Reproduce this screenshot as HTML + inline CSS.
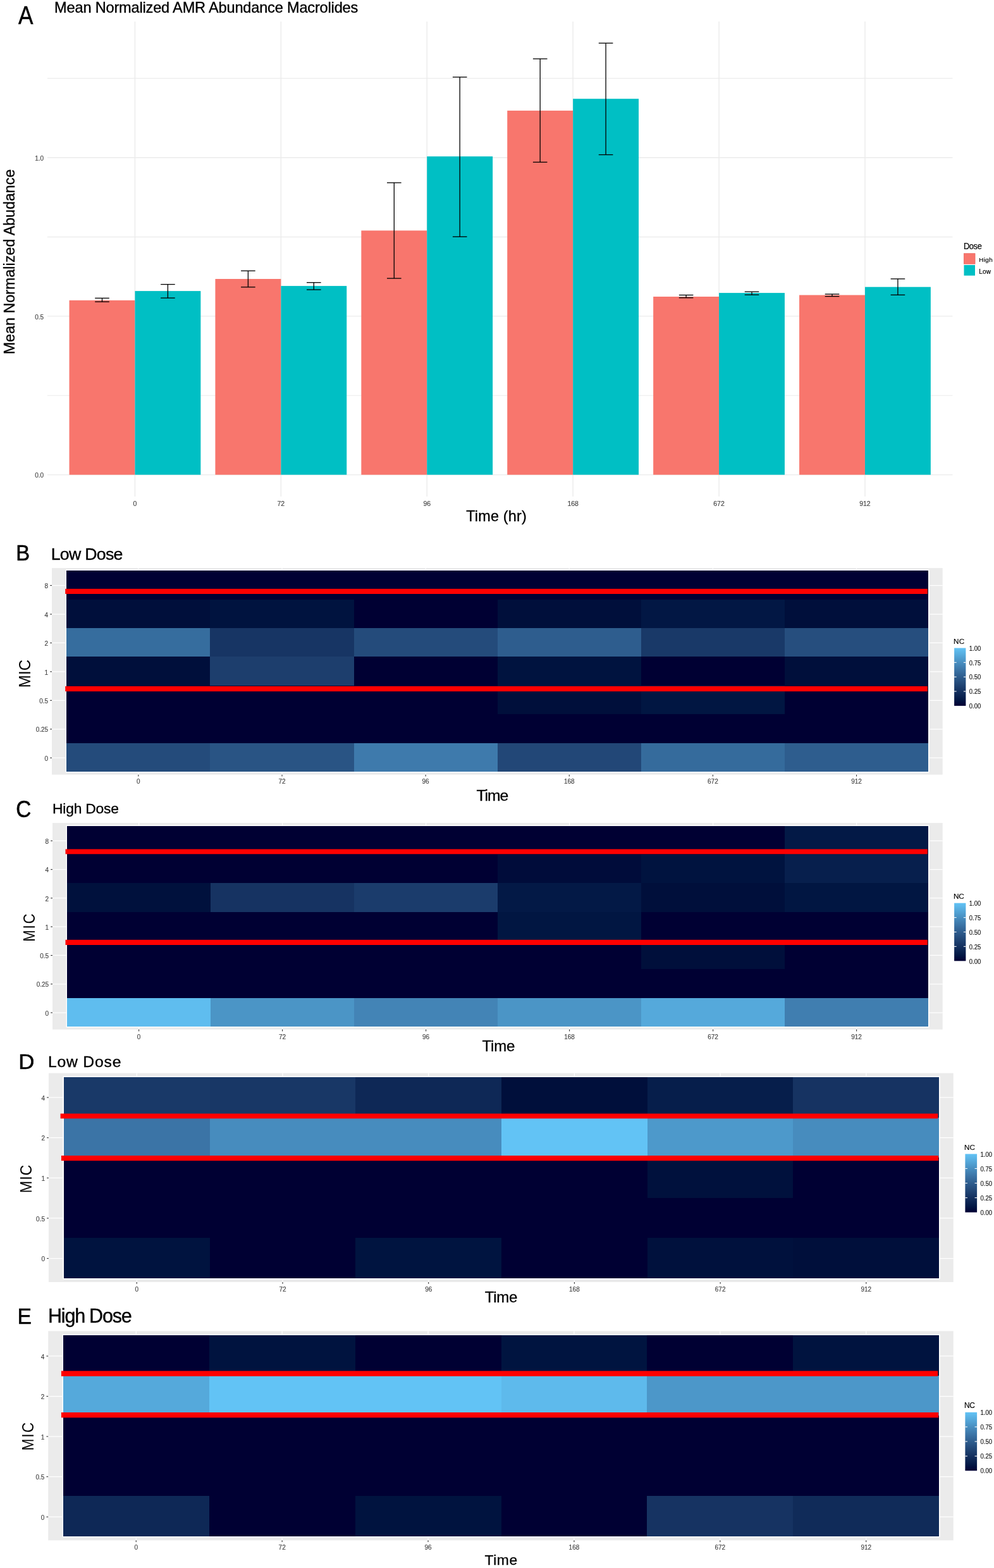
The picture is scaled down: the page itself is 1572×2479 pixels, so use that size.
<!DOCTYPE html>
<html><head><meta charset="utf-8"><title>Mean Normalized AMR Abundance Macrolides</title>
<style>html,body{margin:0;padding:0;background:#fff;overflow:hidden;}svg{display:block;}text{font-family:'Liberation Sans', Arial, Helvetica, sans-serif;}</style></head>
<body><svg width="1572" height="2479" viewBox="0 0 1572 2479">
<rect x="0" y="0" width="1572" height="2479" fill="#FFFFFF"/>
<line x1="74.90" y1="750.60" x2="1506.50" y2="750.60" stroke="#EBEBEB" stroke-width="1.4" />
<line x1="74.90" y1="625.25" x2="1506.50" y2="625.25" stroke="#EBEBEB" stroke-width="1.2" />
<line x1="74.90" y1="499.90" x2="1506.50" y2="499.90" stroke="#EBEBEB" stroke-width="1.4" />
<line x1="74.90" y1="374.55" x2="1506.50" y2="374.55" stroke="#EBEBEB" stroke-width="1.2" />
<line x1="74.90" y1="249.20" x2="1506.50" y2="249.20" stroke="#EBEBEB" stroke-width="1.4" />
<line x1="74.90" y1="123.85" x2="1506.50" y2="123.85" stroke="#EBEBEB" stroke-width="1.2" />
<line x1="213.44" y1="34.00" x2="213.44" y2="785.00" stroke="#EBEBEB" stroke-width="1.4" />
<line x1="444.35" y1="34.00" x2="444.35" y2="785.00" stroke="#EBEBEB" stroke-width="1.4" />
<line x1="675.25" y1="34.00" x2="675.25" y2="785.00" stroke="#EBEBEB" stroke-width="1.4" />
<line x1="906.15" y1="34.00" x2="906.15" y2="785.00" stroke="#EBEBEB" stroke-width="1.4" />
<line x1="1137.05" y1="34.00" x2="1137.05" y2="785.00" stroke="#EBEBEB" stroke-width="1.4" />
<line x1="1367.96" y1="34.00" x2="1367.96" y2="785.00" stroke="#EBEBEB" stroke-width="1.4" />
<rect x="109.54" y="474.80" width="103.91" height="275.80" fill="#F8766D" />
<rect x="213.44" y="460.10" width="103.91" height="290.50" fill="#00BFC4" />
<rect x="340.44" y="441.00" width="103.91" height="309.60" fill="#F8766D" />
<rect x="444.35" y="452.10" width="103.91" height="298.50" fill="#00BFC4" />
<rect x="571.34" y="364.50" width="103.91" height="386.10" fill="#F8766D" />
<rect x="675.25" y="247.30" width="103.91" height="503.30" fill="#00BFC4" />
<rect x="802.25" y="174.90" width="103.91" height="575.70" fill="#F8766D" />
<rect x="906.15" y="156.20" width="103.91" height="594.40" fill="#00BFC4" />
<rect x="1033.15" y="469.00" width="103.91" height="281.60" fill="#F8766D" />
<rect x="1137.05" y="463.10" width="103.91" height="287.50" fill="#00BFC4" />
<rect x="1264.05" y="466.50" width="103.91" height="284.10" fill="#F8766D" />
<rect x="1367.96" y="453.70" width="103.91" height="296.90" fill="#00BFC4" />
<line x1="161.49" y1="471.40" x2="161.49" y2="477.10" stroke="#000" stroke-width="1.3" />
<line x1="150.19" y1="471.40" x2="172.79" y2="471.40" stroke="#000" stroke-width="1.3" />
<line x1="150.19" y1="477.10" x2="172.79" y2="477.10" stroke="#000" stroke-width="1.3" />
<line x1="265.40" y1="449.60" x2="265.40" y2="471.10" stroke="#000" stroke-width="1.3" />
<line x1="254.10" y1="449.60" x2="276.70" y2="449.60" stroke="#000" stroke-width="1.3" />
<line x1="254.10" y1="471.10" x2="276.70" y2="471.10" stroke="#000" stroke-width="1.3" />
<line x1="392.39" y1="428.20" x2="392.39" y2="453.90" stroke="#000" stroke-width="1.3" />
<line x1="381.09" y1="428.20" x2="403.69" y2="428.20" stroke="#000" stroke-width="1.3" />
<line x1="381.09" y1="453.90" x2="403.69" y2="453.90" stroke="#000" stroke-width="1.3" />
<line x1="496.30" y1="446.70" x2="496.30" y2="458.00" stroke="#000" stroke-width="1.3" />
<line x1="485.00" y1="446.70" x2="507.60" y2="446.70" stroke="#000" stroke-width="1.3" />
<line x1="485.00" y1="458.00" x2="507.60" y2="458.00" stroke="#000" stroke-width="1.3" />
<line x1="623.30" y1="288.90" x2="623.30" y2="440.10" stroke="#000" stroke-width="1.3" />
<line x1="612.00" y1="288.90" x2="634.60" y2="288.90" stroke="#000" stroke-width="1.3" />
<line x1="612.00" y1="440.10" x2="634.60" y2="440.10" stroke="#000" stroke-width="1.3" />
<line x1="727.20" y1="121.90" x2="727.20" y2="374.30" stroke="#000" stroke-width="1.3" />
<line x1="715.90" y1="121.90" x2="738.50" y2="121.90" stroke="#000" stroke-width="1.3" />
<line x1="715.90" y1="374.30" x2="738.50" y2="374.30" stroke="#000" stroke-width="1.3" />
<line x1="854.20" y1="93.00" x2="854.20" y2="256.40" stroke="#000" stroke-width="1.3" />
<line x1="842.90" y1="93.00" x2="865.50" y2="93.00" stroke="#000" stroke-width="1.3" />
<line x1="842.90" y1="256.40" x2="865.50" y2="256.40" stroke="#000" stroke-width="1.3" />
<line x1="958.10" y1="68.20" x2="958.10" y2="244.60" stroke="#000" stroke-width="1.3" />
<line x1="946.80" y1="68.20" x2="969.40" y2="68.20" stroke="#000" stroke-width="1.3" />
<line x1="946.80" y1="244.60" x2="969.40" y2="244.60" stroke="#000" stroke-width="1.3" />
<line x1="1085.10" y1="466.50" x2="1085.10" y2="470.80" stroke="#000" stroke-width="1.3" />
<line x1="1073.80" y1="466.50" x2="1096.40" y2="466.50" stroke="#000" stroke-width="1.3" />
<line x1="1073.80" y1="470.80" x2="1096.40" y2="470.80" stroke="#000" stroke-width="1.3" />
<line x1="1189.01" y1="461.20" x2="1189.01" y2="466.10" stroke="#000" stroke-width="1.3" />
<line x1="1177.71" y1="461.20" x2="1200.31" y2="461.20" stroke="#000" stroke-width="1.3" />
<line x1="1177.71" y1="466.10" x2="1200.31" y2="466.10" stroke="#000" stroke-width="1.3" />
<line x1="1316.00" y1="465.00" x2="1316.00" y2="468.60" stroke="#000" stroke-width="1.3" />
<line x1="1304.70" y1="465.00" x2="1327.30" y2="465.00" stroke="#000" stroke-width="1.3" />
<line x1="1304.70" y1="468.60" x2="1327.30" y2="468.60" stroke="#000" stroke-width="1.3" />
<line x1="1419.91" y1="440.90" x2="1419.91" y2="466.30" stroke="#000" stroke-width="1.3" />
<line x1="1408.61" y1="440.90" x2="1431.21" y2="440.90" stroke="#000" stroke-width="1.3" />
<line x1="1408.61" y1="466.30" x2="1431.21" y2="466.30" stroke="#000" stroke-width="1.3" />
<rect x="1524.50" y="400.80" width="17.50" height="16.40" fill="#F8766D" stroke="#E8605A" stroke-width="0.8"/>
<rect x="1524.50" y="419.00" width="17.50" height="16.70" fill="#00BFC4" />
<rect x="82.00" y="898.10" width="1408.70" height="326.60" fill="#EBEBEB" />
<line x1="218.87" y1="898.10" x2="218.87" y2="1224.70" stroke="#FFFFFF" stroke-width="1.25" />
<line x1="446.00" y1="898.10" x2="446.00" y2="1224.70" stroke="#FFFFFF" stroke-width="1.25" />
<line x1="673.13" y1="898.10" x2="673.13" y2="1224.70" stroke="#FFFFFF" stroke-width="1.25" />
<line x1="900.27" y1="898.10" x2="900.27" y2="1224.70" stroke="#FFFFFF" stroke-width="1.25" />
<line x1="1127.40" y1="898.10" x2="1127.40" y2="1224.70" stroke="#FFFFFF" stroke-width="1.25" />
<line x1="1354.53" y1="898.10" x2="1354.53" y2="1224.70" stroke="#FFFFFF" stroke-width="1.25" />
<line x1="82.00" y1="925.61" x2="1490.70" y2="925.61" stroke="#FFFFFF" stroke-width="1.25" />
<line x1="82.00" y1="971.04" x2="1490.70" y2="971.04" stroke="#FFFFFF" stroke-width="1.25" />
<line x1="82.00" y1="1016.47" x2="1490.70" y2="1016.47" stroke="#FFFFFF" stroke-width="1.25" />
<line x1="82.00" y1="1061.90" x2="1490.70" y2="1061.90" stroke="#FFFFFF" stroke-width="1.25" />
<line x1="82.00" y1="1107.33" x2="1490.70" y2="1107.33" stroke="#FFFFFF" stroke-width="1.25" />
<line x1="82.00" y1="1152.76" x2="1490.70" y2="1152.76" stroke="#FFFFFF" stroke-width="1.25" />
<line x1="82.00" y1="1198.19" x2="1490.70" y2="1198.19" stroke="#FFFFFF" stroke-width="1.25" />
<rect x="103.80" y="900.60" width="1365.80" height="321.00" fill="#FFFFFF" />
<rect x="105.30" y="902.10" width="227.13" height="45.43" fill="#000033" shape-rendering="crispEdges"/>
<rect x="332.43" y="902.10" width="227.13" height="45.43" fill="#000033" shape-rendering="crispEdges"/>
<rect x="559.57" y="902.10" width="227.13" height="45.43" fill="#000033" shape-rendering="crispEdges"/>
<rect x="786.70" y="902.10" width="227.13" height="45.43" fill="#000033" shape-rendering="crispEdges"/>
<rect x="1013.83" y="902.10" width="227.13" height="45.43" fill="#000033" shape-rendering="crispEdges"/>
<rect x="1240.97" y="902.10" width="227.13" height="45.43" fill="#000033" shape-rendering="crispEdges"/>
<rect x="105.30" y="947.53" width="227.13" height="45.43" fill="#000F3B" shape-rendering="crispEdges"/>
<rect x="332.43" y="947.53" width="227.13" height="45.43" fill="#00133F" shape-rendering="crispEdges"/>
<rect x="559.57" y="947.53" width="227.13" height="45.43" fill="#000033" shape-rendering="crispEdges"/>
<rect x="786.70" y="947.53" width="227.13" height="45.43" fill="#000F3B" shape-rendering="crispEdges"/>
<rect x="1013.83" y="947.53" width="227.13" height="45.43" fill="#021744" shape-rendering="crispEdges"/>
<rect x="1240.97" y="947.53" width="227.13" height="45.43" fill="#000F3B" shape-rendering="crispEdges"/>
<rect x="105.30" y="992.96" width="227.13" height="45.43" fill="#366D9E" shape-rendering="crispEdges"/>
<rect x="332.43" y="992.96" width="227.13" height="45.43" fill="#173564" shape-rendering="crispEdges"/>
<rect x="559.57" y="992.96" width="227.13" height="45.43" fill="#244B7B" shape-rendering="crispEdges"/>
<rect x="786.70" y="992.96" width="227.13" height="45.43" fill="#2E5D8E" shape-rendering="crispEdges"/>
<rect x="1013.83" y="992.96" width="227.13" height="45.43" fill="#193968" shape-rendering="crispEdges"/>
<rect x="1240.97" y="992.96" width="227.13" height="45.43" fill="#264E7E" shape-rendering="crispEdges"/>
<rect x="105.30" y="1038.39" width="227.13" height="45.43" fill="#000F3B" shape-rendering="crispEdges"/>
<rect x="332.43" y="1038.39" width="227.13" height="45.43" fill="#1D3E6D" shape-rendering="crispEdges"/>
<rect x="559.57" y="1038.39" width="227.13" height="45.43" fill="#000033" shape-rendering="crispEdges"/>
<rect x="786.70" y="1038.39" width="227.13" height="45.43" fill="#00133F" shape-rendering="crispEdges"/>
<rect x="1013.83" y="1038.39" width="227.13" height="45.43" fill="#000033" shape-rendering="crispEdges"/>
<rect x="1240.97" y="1038.39" width="227.13" height="45.43" fill="#000F3B" shape-rendering="crispEdges"/>
<rect x="105.30" y="1083.81" width="227.13" height="45.43" fill="#000033" shape-rendering="crispEdges"/>
<rect x="332.43" y="1083.81" width="227.13" height="45.43" fill="#000033" shape-rendering="crispEdges"/>
<rect x="559.57" y="1083.81" width="227.13" height="45.43" fill="#000033" shape-rendering="crispEdges"/>
<rect x="786.70" y="1083.81" width="227.13" height="45.43" fill="#000F3B" shape-rendering="crispEdges"/>
<rect x="1013.83" y="1083.81" width="227.13" height="45.43" fill="#011642" shape-rendering="crispEdges"/>
<rect x="1240.97" y="1083.81" width="227.13" height="45.43" fill="#000033" shape-rendering="crispEdges"/>
<rect x="105.30" y="1129.24" width="227.13" height="45.43" fill="#000033" shape-rendering="crispEdges"/>
<rect x="332.43" y="1129.24" width="227.13" height="45.43" fill="#000033" shape-rendering="crispEdges"/>
<rect x="559.57" y="1129.24" width="227.13" height="45.43" fill="#000033" shape-rendering="crispEdges"/>
<rect x="786.70" y="1129.24" width="227.13" height="45.43" fill="#000033" shape-rendering="crispEdges"/>
<rect x="1013.83" y="1129.24" width="227.13" height="45.43" fill="#000033" shape-rendering="crispEdges"/>
<rect x="1240.97" y="1129.24" width="227.13" height="45.43" fill="#000033" shape-rendering="crispEdges"/>
<rect x="105.30" y="1174.67" width="227.13" height="45.43" fill="#244B7B" shape-rendering="crispEdges"/>
<rect x="332.43" y="1174.67" width="227.13" height="45.43" fill="#295484" shape-rendering="crispEdges"/>
<rect x="559.57" y="1174.67" width="227.13" height="45.43" fill="#3E7AAC" shape-rendering="crispEdges"/>
<rect x="786.70" y="1174.67" width="227.13" height="45.43" fill="#224777" shape-rendering="crispEdges"/>
<rect x="1013.83" y="1174.67" width="227.13" height="45.43" fill="#356B9C" shape-rendering="crispEdges"/>
<rect x="1240.97" y="1174.67" width="227.13" height="45.43" fill="#2E5D8E" shape-rendering="crispEdges"/>
<rect x="103.20" y="930.90" width="1363.70" height="8.10" fill="#FF0000" />
<rect x="103.20" y="1084.90" width="1363.70" height="8.20" fill="#FF0000" />
<line x1="79.20" y1="925.61" x2="82.00" y2="925.61" stroke="#333333" stroke-width="1.1" />
<line x1="79.20" y1="971.04" x2="82.00" y2="971.04" stroke="#333333" stroke-width="1.1" />
<line x1="79.20" y1="1016.47" x2="82.00" y2="1016.47" stroke="#333333" stroke-width="1.1" />
<line x1="79.20" y1="1061.90" x2="82.00" y2="1061.90" stroke="#333333" stroke-width="1.1" />
<line x1="79.20" y1="1107.33" x2="82.00" y2="1107.33" stroke="#333333" stroke-width="1.1" />
<line x1="79.20" y1="1152.76" x2="82.00" y2="1152.76" stroke="#333333" stroke-width="1.1" />
<line x1="79.20" y1="1198.19" x2="82.00" y2="1198.19" stroke="#333333" stroke-width="1.1" />
<line x1="218.87" y1="1224.70" x2="218.87" y2="1227.50" stroke="#333333" stroke-width="1.1" />
<line x1="446.00" y1="1224.70" x2="446.00" y2="1227.50" stroke="#333333" stroke-width="1.1" />
<line x1="673.13" y1="1224.70" x2="673.13" y2="1227.50" stroke="#333333" stroke-width="1.1" />
<line x1="900.27" y1="1224.70" x2="900.27" y2="1227.50" stroke="#333333" stroke-width="1.1" />
<line x1="1127.40" y1="1224.70" x2="1127.40" y2="1227.50" stroke="#333333" stroke-width="1.1" />
<line x1="1354.53" y1="1224.70" x2="1354.53" y2="1227.50" stroke="#333333" stroke-width="1.1" />
<defs><linearGradient id="gB" x1="0" y1="1" x2="0" y2="0"><stop offset="0.0" stop-color="#000033"/><stop offset="0.1" stop-color="#021744"/><stop offset="0.2" stop-color="#0E2856"/><stop offset="0.3" stop-color="#193968"/><stop offset="0.4" stop-color="#244B7B"/><stop offset="0.5" stop-color="#2E5D8E"/><stop offset="0.6" stop-color="#3970A2"/><stop offset="0.7" stop-color="#4384B6"/><stop offset="0.8" stop-color="#4D99CB"/><stop offset="0.9" stop-color="#58AEE0"/><stop offset="1.0" stop-color="#62C3F5"/></linearGradient></defs>
<rect x="1509.10" y="1024.50" width="18.30" height="91.40" fill="url(#gB)" />
<line x1="1509.10" y1="1047.35" x2="1512.60" y2="1047.35" stroke="#FFFFFF" stroke-width="1.1" />
<line x1="1523.90" y1="1047.35" x2="1527.40" y2="1047.35" stroke="#FFFFFF" stroke-width="1.1" />
<line x1="1509.10" y1="1070.20" x2="1512.60" y2="1070.20" stroke="#FFFFFF" stroke-width="1.1" />
<line x1="1523.90" y1="1070.20" x2="1527.40" y2="1070.20" stroke="#FFFFFF" stroke-width="1.1" />
<line x1="1509.10" y1="1093.05" x2="1512.60" y2="1093.05" stroke="#FFFFFF" stroke-width="1.1" />
<line x1="1523.90" y1="1093.05" x2="1527.40" y2="1093.05" stroke="#FFFFFF" stroke-width="1.1" />
<rect x="83.00" y="1301.10" width="1407.70" height="326.50" fill="#EBEBEB" />
<line x1="219.60" y1="1301.10" x2="219.60" y2="1627.60" stroke="#FFFFFF" stroke-width="1.25" />
<line x1="446.60" y1="1301.10" x2="446.60" y2="1627.60" stroke="#FFFFFF" stroke-width="1.25" />
<line x1="673.60" y1="1301.10" x2="673.60" y2="1627.60" stroke="#FFFFFF" stroke-width="1.25" />
<line x1="900.60" y1="1301.10" x2="900.60" y2="1627.60" stroke="#FFFFFF" stroke-width="1.25" />
<line x1="1127.60" y1="1301.10" x2="1127.60" y2="1627.60" stroke="#FFFFFF" stroke-width="1.25" />
<line x1="1354.60" y1="1301.10" x2="1354.60" y2="1627.60" stroke="#FFFFFF" stroke-width="1.25" />
<line x1="83.00" y1="1329.34" x2="1490.70" y2="1329.34" stroke="#FFFFFF" stroke-width="1.25" />
<line x1="83.00" y1="1374.63" x2="1490.70" y2="1374.63" stroke="#FFFFFF" stroke-width="1.25" />
<line x1="83.00" y1="1419.91" x2="1490.70" y2="1419.91" stroke="#FFFFFF" stroke-width="1.25" />
<line x1="83.00" y1="1465.20" x2="1490.70" y2="1465.20" stroke="#FFFFFF" stroke-width="1.25" />
<line x1="83.00" y1="1510.49" x2="1490.70" y2="1510.49" stroke="#FFFFFF" stroke-width="1.25" />
<line x1="83.00" y1="1555.77" x2="1490.70" y2="1555.77" stroke="#FFFFFF" stroke-width="1.25" />
<line x1="83.00" y1="1601.06" x2="1490.70" y2="1601.06" stroke="#FFFFFF" stroke-width="1.25" />
<rect x="104.60" y="1304.40" width="1365.00" height="320.00" fill="#FFFFFF" />
<rect x="106.10" y="1305.90" width="227.00" height="45.29" fill="#000033" shape-rendering="crispEdges"/>
<rect x="333.10" y="1305.90" width="227.00" height="45.29" fill="#000033" shape-rendering="crispEdges"/>
<rect x="560.10" y="1305.90" width="227.00" height="45.29" fill="#000033" shape-rendering="crispEdges"/>
<rect x="787.10" y="1305.90" width="227.00" height="45.29" fill="#000033" shape-rendering="crispEdges"/>
<rect x="1014.10" y="1305.90" width="227.00" height="45.29" fill="#000033" shape-rendering="crispEdges"/>
<rect x="1241.10" y="1305.90" width="227.00" height="45.29" fill="#031946" shape-rendering="crispEdges"/>
<rect x="106.10" y="1351.19" width="227.00" height="45.29" fill="#000033" shape-rendering="crispEdges"/>
<rect x="333.10" y="1351.19" width="227.00" height="45.29" fill="#000033" shape-rendering="crispEdges"/>
<rect x="560.10" y="1351.19" width="227.00" height="45.29" fill="#000033" shape-rendering="crispEdges"/>
<rect x="787.10" y="1351.19" width="227.00" height="45.29" fill="#000C3A" shape-rendering="crispEdges"/>
<rect x="1014.10" y="1351.19" width="227.00" height="45.29" fill="#00133F" shape-rendering="crispEdges"/>
<rect x="1241.10" y="1351.19" width="227.00" height="45.29" fill="#071F4D" shape-rendering="crispEdges"/>
<rect x="106.10" y="1396.47" width="227.00" height="45.29" fill="#00113D" shape-rendering="crispEdges"/>
<rect x="333.10" y="1396.47" width="227.00" height="45.29" fill="#163362" shape-rendering="crispEdges"/>
<rect x="560.10" y="1396.47" width="227.00" height="45.29" fill="#1B3C6C" shape-rendering="crispEdges"/>
<rect x="787.10" y="1396.47" width="227.00" height="45.29" fill="#031946" shape-rendering="crispEdges"/>
<rect x="1014.10" y="1396.47" width="227.00" height="45.29" fill="#000F3B" shape-rendering="crispEdges"/>
<rect x="1241.10" y="1396.47" width="227.00" height="45.29" fill="#011642" shape-rendering="crispEdges"/>
<rect x="106.10" y="1441.76" width="227.00" height="45.29" fill="#000033" shape-rendering="crispEdges"/>
<rect x="333.10" y="1441.76" width="227.00" height="45.29" fill="#000033" shape-rendering="crispEdges"/>
<rect x="560.10" y="1441.76" width="227.00" height="45.29" fill="#000033" shape-rendering="crispEdges"/>
<rect x="787.10" y="1441.76" width="227.00" height="45.29" fill="#011642" shape-rendering="crispEdges"/>
<rect x="1014.10" y="1441.76" width="227.00" height="45.29" fill="#000033" shape-rendering="crispEdges"/>
<rect x="1241.10" y="1441.76" width="227.00" height="45.29" fill="#000033" shape-rendering="crispEdges"/>
<rect x="106.10" y="1487.04" width="227.00" height="45.29" fill="#000033" shape-rendering="crispEdges"/>
<rect x="333.10" y="1487.04" width="227.00" height="45.29" fill="#000033" shape-rendering="crispEdges"/>
<rect x="560.10" y="1487.04" width="227.00" height="45.29" fill="#000033" shape-rendering="crispEdges"/>
<rect x="787.10" y="1487.04" width="227.00" height="45.29" fill="#000033" shape-rendering="crispEdges"/>
<rect x="1014.10" y="1487.04" width="227.00" height="45.29" fill="#000F3B" shape-rendering="crispEdges"/>
<rect x="1241.10" y="1487.04" width="227.00" height="45.29" fill="#000033" shape-rendering="crispEdges"/>
<rect x="106.10" y="1532.33" width="227.00" height="45.29" fill="#000033" shape-rendering="crispEdges"/>
<rect x="333.10" y="1532.33" width="227.00" height="45.29" fill="#000033" shape-rendering="crispEdges"/>
<rect x="560.10" y="1532.33" width="227.00" height="45.29" fill="#000033" shape-rendering="crispEdges"/>
<rect x="787.10" y="1532.33" width="227.00" height="45.29" fill="#000033" shape-rendering="crispEdges"/>
<rect x="1014.10" y="1532.33" width="227.00" height="45.29" fill="#000033" shape-rendering="crispEdges"/>
<rect x="1241.10" y="1532.33" width="227.00" height="45.29" fill="#000033" shape-rendering="crispEdges"/>
<rect x="106.10" y="1577.61" width="227.00" height="45.29" fill="#5FBDEF" shape-rendering="crispEdges"/>
<rect x="333.10" y="1577.61" width="227.00" height="45.29" fill="#4B95C6" shape-rendering="crispEdges"/>
<rect x="560.10" y="1577.61" width="227.00" height="45.29" fill="#4384B6" shape-rendering="crispEdges"/>
<rect x="787.10" y="1577.61" width="227.00" height="45.29" fill="#4B95C6" shape-rendering="crispEdges"/>
<rect x="1014.10" y="1577.61" width="227.00" height="45.29" fill="#55A9DB" shape-rendering="crispEdges"/>
<rect x="1241.10" y="1577.61" width="227.00" height="45.29" fill="#407EB0" shape-rendering="crispEdges"/>
<rect x="103.50" y="1342.50" width="1363.40" height="7.80" fill="#FF0000" />
<rect x="103.50" y="1485.80" width="1363.40" height="8.20" fill="#FF0000" />
<line x1="80.20" y1="1329.34" x2="83.00" y2="1329.34" stroke="#333333" stroke-width="1.1" />
<line x1="80.20" y1="1374.63" x2="83.00" y2="1374.63" stroke="#333333" stroke-width="1.1" />
<line x1="80.20" y1="1419.91" x2="83.00" y2="1419.91" stroke="#333333" stroke-width="1.1" />
<line x1="80.20" y1="1465.20" x2="83.00" y2="1465.20" stroke="#333333" stroke-width="1.1" />
<line x1="80.20" y1="1510.49" x2="83.00" y2="1510.49" stroke="#333333" stroke-width="1.1" />
<line x1="80.20" y1="1555.77" x2="83.00" y2="1555.77" stroke="#333333" stroke-width="1.1" />
<line x1="80.20" y1="1601.06" x2="83.00" y2="1601.06" stroke="#333333" stroke-width="1.1" />
<line x1="219.60" y1="1627.60" x2="219.60" y2="1630.40" stroke="#333333" stroke-width="1.1" />
<line x1="446.60" y1="1627.60" x2="446.60" y2="1630.40" stroke="#333333" stroke-width="1.1" />
<line x1="673.60" y1="1627.60" x2="673.60" y2="1630.40" stroke="#333333" stroke-width="1.1" />
<line x1="900.60" y1="1627.60" x2="900.60" y2="1630.40" stroke="#333333" stroke-width="1.1" />
<line x1="1127.60" y1="1627.60" x2="1127.60" y2="1630.40" stroke="#333333" stroke-width="1.1" />
<line x1="1354.60" y1="1627.60" x2="1354.60" y2="1630.40" stroke="#333333" stroke-width="1.1" />
<defs><linearGradient id="gC" x1="0" y1="1" x2="0" y2="0"><stop offset="0.0" stop-color="#000033"/><stop offset="0.1" stop-color="#021744"/><stop offset="0.2" stop-color="#0E2856"/><stop offset="0.3" stop-color="#193968"/><stop offset="0.4" stop-color="#244B7B"/><stop offset="0.5" stop-color="#2E5D8E"/><stop offset="0.6" stop-color="#3970A2"/><stop offset="0.7" stop-color="#4384B6"/><stop offset="0.8" stop-color="#4D99CB"/><stop offset="0.9" stop-color="#58AEE0"/><stop offset="1.0" stop-color="#62C3F5"/></linearGradient></defs>
<rect x="1509.10" y="1427.70" width="18.30" height="91.60" fill="url(#gC)" />
<line x1="1509.10" y1="1450.60" x2="1512.60" y2="1450.60" stroke="#FFFFFF" stroke-width="1.1" />
<line x1="1523.90" y1="1450.60" x2="1527.40" y2="1450.60" stroke="#FFFFFF" stroke-width="1.1" />
<line x1="1509.10" y1="1473.50" x2="1512.60" y2="1473.50" stroke="#FFFFFF" stroke-width="1.1" />
<line x1="1523.90" y1="1473.50" x2="1527.40" y2="1473.50" stroke="#FFFFFF" stroke-width="1.1" />
<line x1="1509.10" y1="1496.40" x2="1512.60" y2="1496.40" stroke="#FFFFFF" stroke-width="1.1" />
<line x1="1523.90" y1="1496.40" x2="1527.40" y2="1496.40" stroke="#FFFFFF" stroke-width="1.1" />
<rect x="76.90" y="1696.60" width="1430.90" height="330.40" fill="#EBEBEB" />
<line x1="216.26" y1="1696.60" x2="216.26" y2="2027.00" stroke="#FFFFFF" stroke-width="1.25" />
<line x1="446.98" y1="1696.60" x2="446.98" y2="2027.00" stroke="#FFFFFF" stroke-width="1.25" />
<line x1="677.69" y1="1696.60" x2="677.69" y2="2027.00" stroke="#FFFFFF" stroke-width="1.25" />
<line x1="908.41" y1="1696.60" x2="908.41" y2="2027.00" stroke="#FFFFFF" stroke-width="1.25" />
<line x1="1139.12" y1="1696.60" x2="1139.12" y2="2027.00" stroke="#FFFFFF" stroke-width="1.25" />
<line x1="1369.84" y1="1696.60" x2="1369.84" y2="2027.00" stroke="#FFFFFF" stroke-width="1.25" />
<line x1="76.90" y1="1735.11" x2="1507.80" y2="1735.11" stroke="#FFFFFF" stroke-width="1.25" />
<line x1="76.90" y1="1798.73" x2="1507.80" y2="1798.73" stroke="#FFFFFF" stroke-width="1.25" />
<line x1="76.90" y1="1862.35" x2="1507.80" y2="1862.35" stroke="#FFFFFF" stroke-width="1.25" />
<line x1="76.90" y1="1925.97" x2="1507.80" y2="1925.97" stroke="#FFFFFF" stroke-width="1.25" />
<line x1="76.90" y1="1989.59" x2="1507.80" y2="1989.59" stroke="#FFFFFF" stroke-width="1.25" />
<rect x="99.40" y="1701.40" width="1387.30" height="321.10" fill="#FFFFFF" />
<rect x="100.90" y="1702.90" width="230.72" height="63.62" fill="#193968" shape-rendering="crispEdges"/>
<rect x="331.62" y="1702.90" width="230.72" height="63.62" fill="#183766" shape-rendering="crispEdges"/>
<rect x="562.33" y="1702.90" width="230.72" height="63.62" fill="#0E2856" shape-rendering="crispEdges"/>
<rect x="793.05" y="1702.90" width="230.72" height="63.62" fill="#000F3B" shape-rendering="crispEdges"/>
<rect x="1023.77" y="1702.90" width="230.72" height="63.62" fill="#061E4B" shape-rendering="crispEdges"/>
<rect x="1254.48" y="1702.90" width="230.72" height="63.62" fill="#163362" shape-rendering="crispEdges"/>
<rect x="100.90" y="1766.52" width="230.72" height="63.62" fill="#3B74A6" shape-rendering="crispEdges"/>
<rect x="331.62" y="1766.52" width="230.72" height="63.62" fill="#478CBE" shape-rendering="crispEdges"/>
<rect x="562.33" y="1766.52" width="230.72" height="63.62" fill="#478CBE" shape-rendering="crispEdges"/>
<rect x="793.05" y="1766.52" width="230.72" height="63.62" fill="#62C3F5" shape-rendering="crispEdges"/>
<rect x="1023.77" y="1766.52" width="230.72" height="63.62" fill="#4D99CB" shape-rendering="crispEdges"/>
<rect x="1254.48" y="1766.52" width="230.72" height="63.62" fill="#478CBE" shape-rendering="crispEdges"/>
<rect x="100.90" y="1830.14" width="230.72" height="63.62" fill="#000033" shape-rendering="crispEdges"/>
<rect x="331.62" y="1830.14" width="230.72" height="63.62" fill="#000033" shape-rendering="crispEdges"/>
<rect x="562.33" y="1830.14" width="230.72" height="63.62" fill="#000033" shape-rendering="crispEdges"/>
<rect x="793.05" y="1830.14" width="230.72" height="63.62" fill="#000033" shape-rendering="crispEdges"/>
<rect x="1023.77" y="1830.14" width="230.72" height="63.62" fill="#00113D" shape-rendering="crispEdges"/>
<rect x="1254.48" y="1830.14" width="230.72" height="63.62" fill="#000033" shape-rendering="crispEdges"/>
<rect x="100.90" y="1893.76" width="230.72" height="63.62" fill="#000033" shape-rendering="crispEdges"/>
<rect x="331.62" y="1893.76" width="230.72" height="63.62" fill="#000033" shape-rendering="crispEdges"/>
<rect x="562.33" y="1893.76" width="230.72" height="63.62" fill="#000033" shape-rendering="crispEdges"/>
<rect x="793.05" y="1893.76" width="230.72" height="63.62" fill="#000033" shape-rendering="crispEdges"/>
<rect x="1023.77" y="1893.76" width="230.72" height="63.62" fill="#000033" shape-rendering="crispEdges"/>
<rect x="1254.48" y="1893.76" width="230.72" height="63.62" fill="#000033" shape-rendering="crispEdges"/>
<rect x="100.90" y="1957.38" width="230.72" height="63.62" fill="#00133F" shape-rendering="crispEdges"/>
<rect x="331.62" y="1957.38" width="230.72" height="63.62" fill="#000033" shape-rendering="crispEdges"/>
<rect x="562.33" y="1957.38" width="230.72" height="63.62" fill="#001440" shape-rendering="crispEdges"/>
<rect x="793.05" y="1957.38" width="230.72" height="63.62" fill="#000033" shape-rendering="crispEdges"/>
<rect x="1023.77" y="1957.38" width="230.72" height="63.62" fill="#00113D" shape-rendering="crispEdges"/>
<rect x="1254.48" y="1957.38" width="230.72" height="63.62" fill="#000F3B" shape-rendering="crispEdges"/>
<rect x="95.60" y="1760.60" width="1387.60" height="7.80" fill="#FF0000" />
<rect x="96.90" y="1827.00" width="1387.30" height="8.10" fill="#FF0000" />
<line x1="74.10" y1="1735.11" x2="76.90" y2="1735.11" stroke="#333333" stroke-width="1.1" />
<line x1="74.10" y1="1798.73" x2="76.90" y2="1798.73" stroke="#333333" stroke-width="1.1" />
<line x1="74.10" y1="1862.35" x2="76.90" y2="1862.35" stroke="#333333" stroke-width="1.1" />
<line x1="74.10" y1="1925.97" x2="76.90" y2="1925.97" stroke="#333333" stroke-width="1.1" />
<line x1="74.10" y1="1989.59" x2="76.90" y2="1989.59" stroke="#333333" stroke-width="1.1" />
<line x1="216.26" y1="2027.00" x2="216.26" y2="2029.80" stroke="#333333" stroke-width="1.1" />
<line x1="446.98" y1="2027.00" x2="446.98" y2="2029.80" stroke="#333333" stroke-width="1.1" />
<line x1="677.69" y1="2027.00" x2="677.69" y2="2029.80" stroke="#333333" stroke-width="1.1" />
<line x1="908.41" y1="2027.00" x2="908.41" y2="2029.80" stroke="#333333" stroke-width="1.1" />
<line x1="1139.12" y1="2027.00" x2="1139.12" y2="2029.80" stroke="#333333" stroke-width="1.1" />
<line x1="1369.84" y1="2027.00" x2="1369.84" y2="2029.80" stroke="#333333" stroke-width="1.1" />
<defs><linearGradient id="gD" x1="0" y1="1" x2="0" y2="0"><stop offset="0.0" stop-color="#000033"/><stop offset="0.1" stop-color="#021744"/><stop offset="0.2" stop-color="#0E2856"/><stop offset="0.3" stop-color="#193968"/><stop offset="0.4" stop-color="#244B7B"/><stop offset="0.5" stop-color="#2E5D8E"/><stop offset="0.6" stop-color="#3970A2"/><stop offset="0.7" stop-color="#4384B6"/><stop offset="0.8" stop-color="#4D99CB"/><stop offset="0.9" stop-color="#58AEE0"/><stop offset="1.0" stop-color="#62C3F5"/></linearGradient></defs>
<rect x="1526.40" y="1824.40" width="18.70" height="92.30" fill="url(#gD)" />
<line x1="1526.40" y1="1847.48" x2="1529.90" y2="1847.48" stroke="#FFFFFF" stroke-width="1.1" />
<line x1="1541.60" y1="1847.48" x2="1545.10" y2="1847.48" stroke="#FFFFFF" stroke-width="1.1" />
<line x1="1526.40" y1="1870.55" x2="1529.90" y2="1870.55" stroke="#FFFFFF" stroke-width="1.1" />
<line x1="1541.60" y1="1870.55" x2="1545.10" y2="1870.55" stroke="#FFFFFF" stroke-width="1.1" />
<line x1="1526.40" y1="1893.62" x2="1529.90" y2="1893.62" stroke="#FFFFFF" stroke-width="1.1" />
<line x1="1541.60" y1="1893.62" x2="1545.10" y2="1893.62" stroke="#FFFFFF" stroke-width="1.1" />
<rect x="76.20" y="2104.40" width="1431.60" height="330.90" fill="#EBEBEB" />
<line x1="215.25" y1="2104.40" x2="215.25" y2="2435.30" stroke="#FFFFFF" stroke-width="1.25" />
<line x1="446.15" y1="2104.40" x2="446.15" y2="2435.30" stroke="#FFFFFF" stroke-width="1.25" />
<line x1="677.05" y1="2104.40" x2="677.05" y2="2435.30" stroke="#FFFFFF" stroke-width="1.25" />
<line x1="907.95" y1="2104.40" x2="907.95" y2="2435.30" stroke="#FFFFFF" stroke-width="1.25" />
<line x1="1138.85" y1="2104.40" x2="1138.85" y2="2435.30" stroke="#FFFFFF" stroke-width="1.25" />
<line x1="1369.75" y1="2104.40" x2="1369.75" y2="2435.30" stroke="#FFFFFF" stroke-width="1.25" />
<line x1="76.20" y1="2143.98" x2="1507.80" y2="2143.98" stroke="#FFFFFF" stroke-width="1.25" />
<line x1="76.20" y1="2207.54" x2="1507.80" y2="2207.54" stroke="#FFFFFF" stroke-width="1.25" />
<line x1="76.20" y1="2271.10" x2="1507.80" y2="2271.10" stroke="#FFFFFF" stroke-width="1.25" />
<line x1="76.20" y1="2334.66" x2="1507.80" y2="2334.66" stroke="#FFFFFF" stroke-width="1.25" />
<line x1="76.20" y1="2398.22" x2="1507.80" y2="2398.22" stroke="#FFFFFF" stroke-width="1.25" />
<rect x="98.30" y="2109.50" width="1388.40" height="320.80" fill="#FFFFFF" />
<rect x="99.80" y="2111.00" width="230.90" height="63.56" fill="#000033" shape-rendering="crispEdges"/>
<rect x="330.70" y="2111.00" width="230.90" height="63.56" fill="#00133F" shape-rendering="crispEdges"/>
<rect x="561.60" y="2111.00" width="230.90" height="63.56" fill="#000033" shape-rendering="crispEdges"/>
<rect x="792.50" y="2111.00" width="230.90" height="63.56" fill="#001440" shape-rendering="crispEdges"/>
<rect x="1023.40" y="2111.00" width="230.90" height="63.56" fill="#000033" shape-rendering="crispEdges"/>
<rect x="1254.30" y="2111.00" width="230.90" height="63.56" fill="#00133F" shape-rendering="crispEdges"/>
<rect x="99.80" y="2174.56" width="230.90" height="63.56" fill="#55A9DB" shape-rendering="crispEdges"/>
<rect x="330.70" y="2174.56" width="230.90" height="63.56" fill="#62C3F5" shape-rendering="crispEdges"/>
<rect x="561.60" y="2174.56" width="230.90" height="63.56" fill="#62C3F5" shape-rendering="crispEdges"/>
<rect x="792.50" y="2174.56" width="230.90" height="63.56" fill="#5EBAEC" shape-rendering="crispEdges"/>
<rect x="1023.40" y="2174.56" width="230.90" height="63.56" fill="#4C97C9" shape-rendering="crispEdges"/>
<rect x="1254.30" y="2174.56" width="230.90" height="63.56" fill="#4C97C9" shape-rendering="crispEdges"/>
<rect x="99.80" y="2238.12" width="230.90" height="63.56" fill="#000033" shape-rendering="crispEdges"/>
<rect x="330.70" y="2238.12" width="230.90" height="63.56" fill="#000033" shape-rendering="crispEdges"/>
<rect x="561.60" y="2238.12" width="230.90" height="63.56" fill="#000033" shape-rendering="crispEdges"/>
<rect x="792.50" y="2238.12" width="230.90" height="63.56" fill="#000033" shape-rendering="crispEdges"/>
<rect x="1023.40" y="2238.12" width="230.90" height="63.56" fill="#000033" shape-rendering="crispEdges"/>
<rect x="1254.30" y="2238.12" width="230.90" height="63.56" fill="#000033" shape-rendering="crispEdges"/>
<rect x="99.80" y="2301.68" width="230.90" height="63.56" fill="#000033" shape-rendering="crispEdges"/>
<rect x="330.70" y="2301.68" width="230.90" height="63.56" fill="#000033" shape-rendering="crispEdges"/>
<rect x="561.60" y="2301.68" width="230.90" height="63.56" fill="#000033" shape-rendering="crispEdges"/>
<rect x="792.50" y="2301.68" width="230.90" height="63.56" fill="#000033" shape-rendering="crispEdges"/>
<rect x="1023.40" y="2301.68" width="230.90" height="63.56" fill="#000033" shape-rendering="crispEdges"/>
<rect x="1254.30" y="2301.68" width="230.90" height="63.56" fill="#000033" shape-rendering="crispEdges"/>
<rect x="99.80" y="2365.24" width="230.90" height="63.56" fill="#0E2856" shape-rendering="crispEdges"/>
<rect x="330.70" y="2365.24" width="230.90" height="63.56" fill="#000033" shape-rendering="crispEdges"/>
<rect x="561.60" y="2365.24" width="230.90" height="63.56" fill="#00133F" shape-rendering="crispEdges"/>
<rect x="792.50" y="2365.24" width="230.90" height="63.56" fill="#000033" shape-rendering="crispEdges"/>
<rect x="1023.40" y="2365.24" width="230.90" height="63.56" fill="#163362" shape-rendering="crispEdges"/>
<rect x="1254.30" y="2365.24" width="230.90" height="63.56" fill="#102B59" shape-rendering="crispEdges"/>
<rect x="96.90" y="2167.40" width="1386.30" height="8.40" fill="#FF0000" />
<rect x="96.90" y="2233.00" width="1387.30" height="8.30" fill="#FF0000" />
<line x1="73.40" y1="2143.98" x2="76.20" y2="2143.98" stroke="#333333" stroke-width="1.1" />
<line x1="73.40" y1="2207.54" x2="76.20" y2="2207.54" stroke="#333333" stroke-width="1.1" />
<line x1="73.40" y1="2271.10" x2="76.20" y2="2271.10" stroke="#333333" stroke-width="1.1" />
<line x1="73.40" y1="2334.66" x2="76.20" y2="2334.66" stroke="#333333" stroke-width="1.1" />
<line x1="73.40" y1="2398.22" x2="76.20" y2="2398.22" stroke="#333333" stroke-width="1.1" />
<line x1="215.25" y1="2435.30" x2="215.25" y2="2438.10" stroke="#333333" stroke-width="1.1" />
<line x1="446.15" y1="2435.30" x2="446.15" y2="2438.10" stroke="#333333" stroke-width="1.1" />
<line x1="677.05" y1="2435.30" x2="677.05" y2="2438.10" stroke="#333333" stroke-width="1.1" />
<line x1="907.95" y1="2435.30" x2="907.95" y2="2438.10" stroke="#333333" stroke-width="1.1" />
<line x1="1138.85" y1="2435.30" x2="1138.85" y2="2438.10" stroke="#333333" stroke-width="1.1" />
<line x1="1369.75" y1="2435.30" x2="1369.75" y2="2438.10" stroke="#333333" stroke-width="1.1" />
<defs><linearGradient id="gE" x1="0" y1="1" x2="0" y2="0"><stop offset="0.0" stop-color="#000033"/><stop offset="0.1" stop-color="#021744"/><stop offset="0.2" stop-color="#0E2856"/><stop offset="0.3" stop-color="#193968"/><stop offset="0.4" stop-color="#244B7B"/><stop offset="0.5" stop-color="#2E5D8E"/><stop offset="0.6" stop-color="#3970A2"/><stop offset="0.7" stop-color="#4384B6"/><stop offset="0.8" stop-color="#4D99CB"/><stop offset="0.9" stop-color="#58AEE0"/><stop offset="1.0" stop-color="#62C3F5"/></linearGradient></defs>
<rect x="1526.40" y="2232.80" width="18.70" height="92.40" fill="url(#gE)" />
<line x1="1526.40" y1="2255.90" x2="1529.90" y2="2255.90" stroke="#FFFFFF" stroke-width="1.1" />
<line x1="1541.60" y1="2255.90" x2="1545.10" y2="2255.90" stroke="#FFFFFF" stroke-width="1.1" />
<line x1="1526.40" y1="2279.00" x2="1529.90" y2="2279.00" stroke="#FFFFFF" stroke-width="1.1" />
<line x1="1541.60" y1="2279.00" x2="1545.10" y2="2279.00" stroke="#FFFFFF" stroke-width="1.1" />
<line x1="1526.40" y1="2302.10" x2="1529.90" y2="2302.10" stroke="#FFFFFF" stroke-width="1.1" />
<line x1="1541.60" y1="2302.10" x2="1545.10" y2="2302.10" stroke="#FFFFFF" stroke-width="1.1" />
<text x="69.20" y="755.30" font-size="10" text-anchor="end" fill="#444444" stroke="#444444" stroke-width="0.15">0.0</text>
<text x="69.20" y="504.60" font-size="10" text-anchor="end" fill="#444444" stroke="#444444" stroke-width="0.15">0.5</text>
<text x="69.20" y="253.90" font-size="10" text-anchor="end" fill="#444444" stroke="#444444" stroke-width="0.15">1.0</text>
<text x="213.44" y="799.50" font-size="10.5" text-anchor="middle" fill="#444444" stroke="#444444" stroke-width="0.15">0</text>
<text x="444.35" y="799.50" font-size="10.5" text-anchor="middle" fill="#444444" stroke="#444444" stroke-width="0.15">72</text>
<text x="675.25" y="799.50" font-size="10.5" text-anchor="middle" fill="#444444" stroke="#444444" stroke-width="0.15">96</text>
<text x="906.15" y="799.50" font-size="10.5" text-anchor="middle" fill="#444444" stroke="#444444" stroke-width="0.15">168</text>
<text x="1137.05" y="799.50" font-size="10.5" text-anchor="middle" fill="#444444" stroke="#444444" stroke-width="0.15">672</text>
<text x="1367.96" y="799.50" font-size="10.5" text-anchor="middle" fill="#444444" stroke="#444444" stroke-width="0.15">912</text>
<text x="76.10" y="930.21" font-size="10" text-anchor="end" fill="#444444" stroke="#444444" stroke-width="0.15">8</text>
<text x="76.10" y="975.64" font-size="10" text-anchor="end" fill="#444444" stroke="#444444" stroke-width="0.15">4</text>
<text x="76.10" y="1021.07" font-size="10" text-anchor="end" fill="#444444" stroke="#444444" stroke-width="0.15">2</text>
<text x="76.10" y="1066.50" font-size="10" text-anchor="end" fill="#444444" stroke="#444444" stroke-width="0.15">1</text>
<text x="76.10" y="1111.93" font-size="10" text-anchor="end" fill="#444444" stroke="#444444" stroke-width="0.15">0.5</text>
<text x="76.10" y="1157.36" font-size="10" text-anchor="end" fill="#444444" stroke="#444444" stroke-width="0.15">0.25</text>
<text x="76.10" y="1202.79" font-size="10" text-anchor="end" fill="#444444" stroke="#444444" stroke-width="0.15">0</text>
<text x="218.87" y="1239.10" font-size="10" text-anchor="middle" fill="#444444" stroke="#444444" stroke-width="0.15">0</text>
<text x="446.00" y="1239.10" font-size="10" text-anchor="middle" fill="#444444" stroke="#444444" stroke-width="0.15">72</text>
<text x="673.13" y="1239.10" font-size="10" text-anchor="middle" fill="#444444" stroke="#444444" stroke-width="0.15">96</text>
<text x="900.27" y="1239.10" font-size="10" text-anchor="middle" fill="#444444" stroke="#444444" stroke-width="0.15">168</text>
<text x="1127.40" y="1239.10" font-size="10" text-anchor="middle" fill="#444444" stroke="#444444" stroke-width="0.15">672</text>
<text x="1354.53" y="1239.10" font-size="10" text-anchor="middle" fill="#444444" stroke="#444444" stroke-width="0.15">912</text>
<text x="1532.80" y="1028.70" font-size="10.2" text-anchor="start" fill="#111" stroke="#111" stroke-width="0.15" textLength="18.4" lengthAdjust="spacingAndGlyphs">1.00</text>
<text x="1532.80" y="1051.55" font-size="10.2" text-anchor="start" fill="#111" stroke="#111" stroke-width="0.15" textLength="18.4" lengthAdjust="spacingAndGlyphs">0.75</text>
<text x="1532.80" y="1074.40" font-size="10.2" text-anchor="start" fill="#111" stroke="#111" stroke-width="0.15" textLength="18.4" lengthAdjust="spacingAndGlyphs">0.50</text>
<text x="1532.80" y="1097.25" font-size="10.2" text-anchor="start" fill="#111" stroke="#111" stroke-width="0.15" textLength="18.4" lengthAdjust="spacingAndGlyphs">0.25</text>
<text x="1532.80" y="1120.10" font-size="10.2" text-anchor="start" fill="#111" stroke="#111" stroke-width="0.15" textLength="18.4" lengthAdjust="spacingAndGlyphs">0.00</text>
<text x="77.10" y="1333.94" font-size="10" text-anchor="end" fill="#444444" stroke="#444444" stroke-width="0.15">8</text>
<text x="77.10" y="1379.23" font-size="10" text-anchor="end" fill="#444444" stroke="#444444" stroke-width="0.15">4</text>
<text x="77.10" y="1424.51" font-size="10" text-anchor="end" fill="#444444" stroke="#444444" stroke-width="0.15">2</text>
<text x="77.10" y="1469.80" font-size="10" text-anchor="end" fill="#444444" stroke="#444444" stroke-width="0.15">1</text>
<text x="77.10" y="1515.09" font-size="10" text-anchor="end" fill="#444444" stroke="#444444" stroke-width="0.15">0.5</text>
<text x="77.10" y="1560.37" font-size="10" text-anchor="end" fill="#444444" stroke="#444444" stroke-width="0.15">0.25</text>
<text x="77.10" y="1605.66" font-size="10" text-anchor="end" fill="#444444" stroke="#444444" stroke-width="0.15">0</text>
<text x="219.60" y="1642.90" font-size="10" text-anchor="middle" fill="#444444" stroke="#444444" stroke-width="0.15">0</text>
<text x="446.60" y="1642.90" font-size="10" text-anchor="middle" fill="#444444" stroke="#444444" stroke-width="0.15">72</text>
<text x="673.60" y="1642.90" font-size="10" text-anchor="middle" fill="#444444" stroke="#444444" stroke-width="0.15">96</text>
<text x="900.60" y="1642.90" font-size="10" text-anchor="middle" fill="#444444" stroke="#444444" stroke-width="0.15">168</text>
<text x="1127.60" y="1642.90" font-size="10" text-anchor="middle" fill="#444444" stroke="#444444" stroke-width="0.15">672</text>
<text x="1354.60" y="1642.90" font-size="10" text-anchor="middle" fill="#444444" stroke="#444444" stroke-width="0.15">912</text>
<text x="1532.80" y="1431.90" font-size="10.2" text-anchor="start" fill="#111" stroke="#111" stroke-width="0.15" textLength="18.4" lengthAdjust="spacingAndGlyphs">1.00</text>
<text x="1532.80" y="1454.80" font-size="10.2" text-anchor="start" fill="#111" stroke="#111" stroke-width="0.15" textLength="18.4" lengthAdjust="spacingAndGlyphs">0.75</text>
<text x="1532.80" y="1477.70" font-size="10.2" text-anchor="start" fill="#111" stroke="#111" stroke-width="0.15" textLength="18.4" lengthAdjust="spacingAndGlyphs">0.50</text>
<text x="1532.80" y="1500.60" font-size="10.2" text-anchor="start" fill="#111" stroke="#111" stroke-width="0.15" textLength="18.4" lengthAdjust="spacingAndGlyphs">0.25</text>
<text x="1532.80" y="1523.50" font-size="10.2" text-anchor="start" fill="#111" stroke="#111" stroke-width="0.15" textLength="18.4" lengthAdjust="spacingAndGlyphs">0.00</text>
<text x="71.00" y="1739.71" font-size="10" text-anchor="end" fill="#444444" stroke="#444444" stroke-width="0.15">4</text>
<text x="71.00" y="1803.33" font-size="10" text-anchor="end" fill="#444444" stroke="#444444" stroke-width="0.15">2</text>
<text x="71.00" y="1866.95" font-size="10" text-anchor="end" fill="#444444" stroke="#444444" stroke-width="0.15">1</text>
<text x="71.00" y="1930.57" font-size="10" text-anchor="end" fill="#444444" stroke="#444444" stroke-width="0.15">0.5</text>
<text x="71.00" y="1994.19" font-size="10" text-anchor="end" fill="#444444" stroke="#444444" stroke-width="0.15">0</text>
<text x="216.26" y="2041.60" font-size="10" text-anchor="middle" fill="#444444" stroke="#444444" stroke-width="0.15">0</text>
<text x="446.98" y="2041.60" font-size="10" text-anchor="middle" fill="#444444" stroke="#444444" stroke-width="0.15">72</text>
<text x="677.69" y="2041.60" font-size="10" text-anchor="middle" fill="#444444" stroke="#444444" stroke-width="0.15">96</text>
<text x="908.41" y="2041.60" font-size="10" text-anchor="middle" fill="#444444" stroke="#444444" stroke-width="0.15">168</text>
<text x="1139.12" y="2041.60" font-size="10" text-anchor="middle" fill="#444444" stroke="#444444" stroke-width="0.15">672</text>
<text x="1369.84" y="2041.60" font-size="10" text-anchor="middle" fill="#444444" stroke="#444444" stroke-width="0.15">912</text>
<text x="1550.50" y="1828.60" font-size="10.2" text-anchor="start" fill="#111" stroke="#111" stroke-width="0.15" textLength="18.4" lengthAdjust="spacingAndGlyphs">1.00</text>
<text x="1550.50" y="1851.68" font-size="10.2" text-anchor="start" fill="#111" stroke="#111" stroke-width="0.15" textLength="18.4" lengthAdjust="spacingAndGlyphs">0.75</text>
<text x="1550.50" y="1874.75" font-size="10.2" text-anchor="start" fill="#111" stroke="#111" stroke-width="0.15" textLength="18.4" lengthAdjust="spacingAndGlyphs">0.50</text>
<text x="1550.50" y="1897.83" font-size="10.2" text-anchor="start" fill="#111" stroke="#111" stroke-width="0.15" textLength="18.4" lengthAdjust="spacingAndGlyphs">0.25</text>
<text x="1550.50" y="1920.90" font-size="10.2" text-anchor="start" fill="#111" stroke="#111" stroke-width="0.15" textLength="18.4" lengthAdjust="spacingAndGlyphs">0.00</text>
<text x="70.30" y="2148.58" font-size="10" text-anchor="end" fill="#444444" stroke="#444444" stroke-width="0.15">4</text>
<text x="70.30" y="2212.14" font-size="10" text-anchor="end" fill="#444444" stroke="#444444" stroke-width="0.15">2</text>
<text x="70.30" y="2275.70" font-size="10" text-anchor="end" fill="#444444" stroke="#444444" stroke-width="0.15">1</text>
<text x="70.30" y="2339.26" font-size="10" text-anchor="end" fill="#444444" stroke="#444444" stroke-width="0.15">0.5</text>
<text x="70.30" y="2402.82" font-size="10" text-anchor="end" fill="#444444" stroke="#444444" stroke-width="0.15">0</text>
<text x="215.25" y="2450.30" font-size="10" text-anchor="middle" fill="#444444" stroke="#444444" stroke-width="0.15">0</text>
<text x="446.15" y="2450.30" font-size="10" text-anchor="middle" fill="#444444" stroke="#444444" stroke-width="0.15">72</text>
<text x="677.05" y="2450.30" font-size="10" text-anchor="middle" fill="#444444" stroke="#444444" stroke-width="0.15">96</text>
<text x="907.95" y="2450.30" font-size="10" text-anchor="middle" fill="#444444" stroke="#444444" stroke-width="0.15">168</text>
<text x="1138.85" y="2450.30" font-size="10" text-anchor="middle" fill="#444444" stroke="#444444" stroke-width="0.15">672</text>
<text x="1369.75" y="2450.30" font-size="10" text-anchor="middle" fill="#444444" stroke="#444444" stroke-width="0.15">912</text>
<text x="1550.50" y="2237.00" font-size="10.2" text-anchor="start" fill="#111" stroke="#111" stroke-width="0.15" textLength="18.4" lengthAdjust="spacingAndGlyphs">1.00</text>
<text x="1550.50" y="2260.10" font-size="10.2" text-anchor="start" fill="#111" stroke="#111" stroke-width="0.15" textLength="18.4" lengthAdjust="spacingAndGlyphs">0.75</text>
<text x="1550.50" y="2283.20" font-size="10.2" text-anchor="start" fill="#111" stroke="#111" stroke-width="0.15" textLength="18.4" lengthAdjust="spacingAndGlyphs">0.50</text>
<text x="1550.50" y="2306.30" font-size="10.2" text-anchor="start" fill="#111" stroke="#111" stroke-width="0.15" textLength="18.4" lengthAdjust="spacingAndGlyphs">0.25</text>
<text x="1550.50" y="2329.40" font-size="10.2" text-anchor="start" fill="#111" stroke="#111" stroke-width="0.15" textLength="18.4" lengthAdjust="spacingAndGlyphs">0.00</text>
<text id="A" transform="translate(29.04,37.66) scale(0.8574,1)" font-size="41.019" text-anchor="start" fill="#000" stroke="#000" stroke-width="0.5">A</text>
<text id="title" transform="translate(86.08,19.74)" font-size="23.605" text-anchor="start" fill="#000" stroke="#000" stroke-width="0.35" textLength="480.20" lengthAdjust="spacing">Mean Normalized AMR Abundance Macrolides</text>
<text id="ytitle" transform="translate(22.86,413.90) rotate(-90) scale(0.9300,1)" font-size="24.670" text-anchor="middle" fill="#000" stroke="#000" stroke-width="0.35" textLength="314.21" lengthAdjust="spacing">Mean Normalized Abudance</text>
<text id="timehr" transform="translate(785.01,824.44) scale(0.9600,1)" font-size="24.341" text-anchor="middle" fill="#000" stroke="#000" stroke-width="0.35" textLength="99.53" lengthAdjust="spacing">Time (hr)</text>
<text id="dose" transform="translate(1523.92,393.70) scale(0.9200,1)" font-size="13.978" text-anchor="start" fill="#000" stroke="#000" stroke-width="0.2" textLength="31.37" lengthAdjust="spacing">Dose</text>
<text id="high" transform="translate(1548.32,414.18)" font-size="9.823" text-anchor="start" fill="#000" stroke="#000" stroke-width="0.2" textLength="21.30" lengthAdjust="spacing">High</text>
<text id="low" transform="translate(1548.32,432.78)" font-size="10.010" text-anchor="start" fill="#000" stroke="#000" stroke-width="0.2" textLength="18.71" lengthAdjust="spacing">Low</text>
<text id="B" transform="translate(25.28,885.52) scale(0.9249,1)" font-size="35.441" text-anchor="start" fill="#000" stroke="#000" stroke-width="0.6">B</text>
<text id="tB" transform="translate(80.74,884.74)" font-size="26.703" text-anchor="start" fill="#000" stroke="#000" stroke-width="0.35" textLength="113.71" lengthAdjust="spacing">Low Dose</text>
<text id="C" transform="translate(25.30,1291.72) scale(0.9211,1)" font-size="36.111" text-anchor="start" fill="#000" stroke="#000" stroke-width="0.6">C</text>
<text id="tC" transform="translate(82.96,1285.92)" font-size="22.846" text-anchor="start" fill="#000" stroke="#000" stroke-width="0.3" textLength="105.10" lengthAdjust="spacing">High Dose</text>
<text id="D" transform="translate(29.16,1690.48) scale(1.0227,1)" font-size="34.089" text-anchor="start" fill="#000" stroke="#000" stroke-width="0.6">D</text>
<text id="tD" transform="translate(75.90,1687.32)" font-size="24.680" text-anchor="start" fill="#000" stroke="#000" stroke-width="0.35" textLength="115.47" lengthAdjust="spacing">Low Dose</text>
<text id="E" transform="translate(27.38,2092.70) scale(0.9423,1)" font-size="35.726" text-anchor="start" fill="#000" stroke="#000" stroke-width="0.6">E</text>
<text id="tE" transform="translate(76.06,2091.46)" font-size="30.573" text-anchor="start" fill="#000" stroke="#000" stroke-width="0.35" textLength="132.62" lengthAdjust="spacing">High Dose</text>
<text id="micB" transform="translate(47.58,1065.04) rotate(-90) scale(0.9000,1)" font-size="26.672" text-anchor="middle" fill="#000" textLength="49.28" lengthAdjust="spacing">MIC</text>
<text id="micC" transform="translate(55.48,1466.71) rotate(-90) scale(0.8800,1)" font-size="25.152" text-anchor="middle" fill="#000" textLength="50.30" lengthAdjust="spacing">MIC</text>
<text id="micD" transform="translate(49.80,1863.85) rotate(-90) scale(0.8800,1)" font-size="26.567" text-anchor="middle" fill="#000" textLength="50.76" lengthAdjust="spacing">MIC</text>
<text id="micE" transform="translate(52.60,2270.93) rotate(-90) scale(0.8800,1)" font-size="25.509" text-anchor="middle" fill="#000" textLength="50.49" lengthAdjust="spacing">MIC</text>
<text id="timeB" transform="translate(778.79,1265.80)" font-size="24.704" text-anchor="middle" fill="#000" stroke="#000" stroke-width="0.3" textLength="50.76" lengthAdjust="spacing">Time</text>
<text id="timeC" transform="translate(788.48,1662.22)" font-size="24.000" text-anchor="middle" fill="#000" stroke="#000" stroke-width="0.3" textLength="51.88" lengthAdjust="spacing">Time</text>
<text id="timeD" transform="translate(792.56,2059.38)" font-size="24.000" text-anchor="middle" fill="#000" stroke="#000" stroke-width="0.3" textLength="51.64" lengthAdjust="spacing">Time</text>
<text id="timeE" transform="translate(792.31,2474.42)" font-size="22.813" text-anchor="middle" fill="#000" stroke="#000" stroke-width="0.3" textLength="51.64" lengthAdjust="spacing">Time</text>
<text id="ncB" transform="translate(1507.98,1018.42)" font-size="11.708" text-anchor="start" fill="#000" stroke="#000" stroke-width="0.15" textLength="17.30" lengthAdjust="spacing">NC</text>
<text id="ncC" transform="translate(1507.98,1421.30)" font-size="11.809" text-anchor="start" fill="#000" stroke="#000" stroke-width="0.15" textLength="16.90" lengthAdjust="spacing">NC</text>
<text id="ncD" transform="translate(1525.04,1818.42)" font-size="11.708" text-anchor="start" fill="#000" stroke="#000" stroke-width="0.15" textLength="16.90" lengthAdjust="spacing">NC</text>
<text id="ncE" transform="translate(1525.04,2226.20)" font-size="12.025" text-anchor="start" fill="#000" stroke="#000" stroke-width="0.15" textLength="16.90" lengthAdjust="spacing">NC</text>
</svg></body></html>
